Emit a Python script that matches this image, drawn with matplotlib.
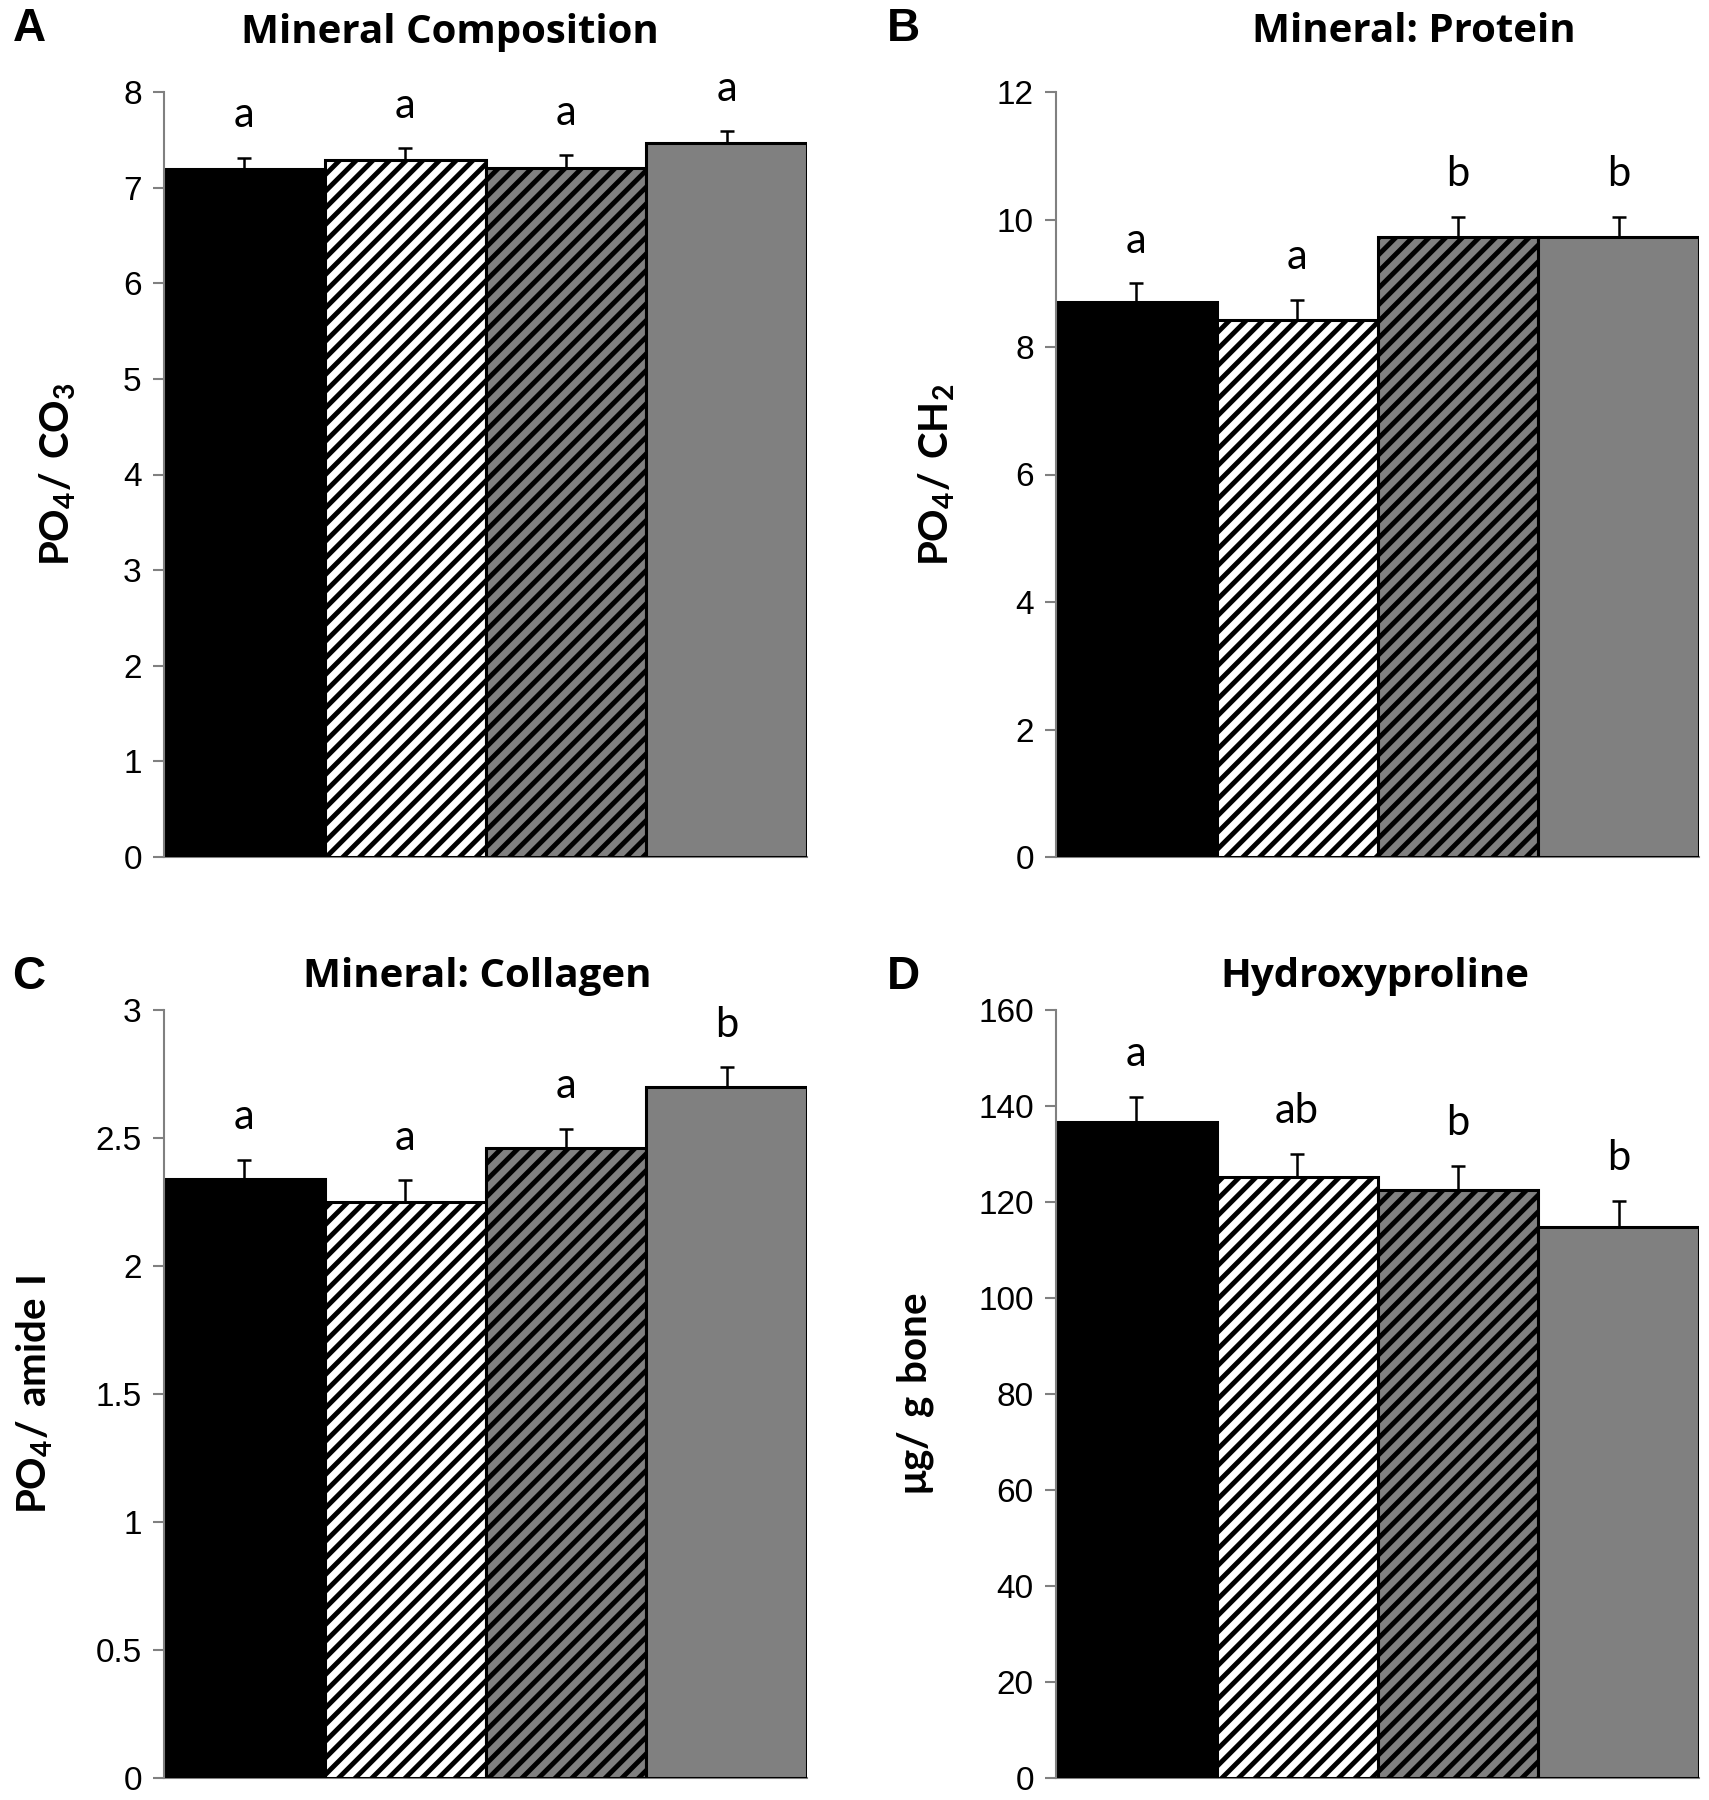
import matplotlib
matplotlib.use('Agg')
from matplotlib import pyplot as plt
import numpy as np

plt.rcParams['font.family'] = ['Liberation Sans', 'DejaVu Sans']
plt.rcParams['mathtext.fontset'] = 'custom'
plt.rcParams['mathtext.rm'] = 'Lato'
plt.rcParams['mathtext.bf'] = 'Lato:bold'
plt.rcParams['hatch.linewidth'] = 3.5

groups = ['Group 1', 'Group 2', 'Group 3', 'Group 4']
fills = ['black', 'white', '#808080', '#808080']
hatches = ['', '//', '//', '']

comp_vals = [7.20, 7.29, 7.21, 7.47]
comp_err = [0.11, 0.12, 0.13, 0.12]
comp_sig = ['a', 'a', 'a', 'a']

prot_vals = [8.70, 8.42, 9.72, 9.72]
prot_err = [0.30, 0.32, 0.32, 0.32]
prot_sig = ['a', 'a', 'b', 'b']

coll_vals = [2.34, 2.25, 2.46, 2.70]
coll_err = [0.075, 0.085, 0.075, 0.077]
coll_sig = ['a', 'a', 'a', 'b']

hyp_vals = [136.7, 125.3, 122.5, 114.7]
hyp_err = [5.2, 4.8, 5.0, 5.6]
hyp_sig = ['a', 'ab', 'b', 'b']

panels = [
    # letter, title, ylabel, vals, errs, sig, ylim, ticks, ticklabels
    ('A', 'Mineral Composition', r'$\mathbf{PO_4/\ CO_3}$', comp_vals, comp_err, comp_sig,
     8, np.arange(0, 9, 1), None),
    ('B', 'Mineral: Protein', r'$\mathbf{PO_4/\ CH_2}$', prot_vals, prot_err, prot_sig,
     12, np.arange(0, 13, 2), None),
    ('C', 'Mineral: Collagen', r'$\mathbf{PO_4/\ amide\ I}$', coll_vals, coll_err, coll_sig,
     3, np.arange(0, 3.01, 0.5), ['0', '0.5', '1', '1.5', '2', '2.5', '3']),
    ('D', 'Hydroxyproline', r'$\mathbf{\mu g/\ g\ bone}$', hyp_vals, hyp_err, hyp_sig,
     160, np.arange(0, 161, 20), None),
]

W, H = 1709, 1800
fig = plt.figure(figsize=(W / 100, H / 100), dpi=100)

# axes boxes in pixels: left, right, top, bottom
boxes = [(164, 807, 92, 857), (1056, 1699, 92, 857),
         (164, 807, 1010, 1778), (1056, 1699, 1010, 1778)]
title_pos = [(450, 32), (1414, 32), (477, 976), (1375, 976)]
letter_pos = [(29, 29), (903, 29), (29, 977), (903, 977)]
ylabel_x = [58, 937, 35, 916]

for i, (let, title, ylab, vals, errs, sig, top, ticks, tlabels) in enumerate(panels):
    l, r, t, b = boxes[i]
    ax = fig.add_axes([l / W, 1 - b / H, (r - l) / W, (b - t) / H])
    x = np.arange(len(groups))
    bars = ax.bar(x, vals, width=1.0, color=fills, edgecolor='black', linewidth=2.2, zorder=2)
    for bar, h in zip(bars, hatches):
        bar.set_hatch(h)
    ax.errorbar(x, vals, yerr=[np.zeros(len(vals)), errs], fmt='none', ecolor='black',
                elinewidth=1.8, capsize=5, capthick=1.8, zorder=3)
    for xi, v, e, s in zip(x, vals, errs, sig):
        ax.annotate(s, (xi, v + e), xytext=(0, 22), textcoords='offset points',
                    ha='center', va='baseline', fontsize=30, family='Lato')
    ax.set_xlim(-0.5, 3.5)
    ax.set_ylim(0, top)
    ax.set_yticks(ticks)
    if tlabels is not None:
        ax.set_yticklabels(tlabels)
    ax.set_xticks([])
    ax.tick_params(axis='y', labelsize=24, length=8, width=1.5, color='#808080', pad=8)
    for side in ['top', 'right']:
        ax.spines[side].set_visible(False)
    for side in ['left', 'bottom']:
        ax.spines[side].set_color('#808080')
        ax.spines[side].set_linewidth(1.5)
    ax.spines['bottom'].set_zorder(1)

    fig.text(ylabel_x[i] / W, 1 - ((t + b) / 2) / H, ylab, rotation=90, ha='center',
             va='center', fontsize=29)
    fig.text(title_pos[i][0] / W, 1 - title_pos[i][1] / H, title, ha='center', va='center',
             fontsize=29, fontweight='bold', family='Open Sans')
    fig.text(letter_pos[i][0] / W, 1 - letter_pos[i][1] / H, let, ha='center', va='center',
             fontsize=33, fontweight='bold')

fig.savefig('out.png', dpi=100)
